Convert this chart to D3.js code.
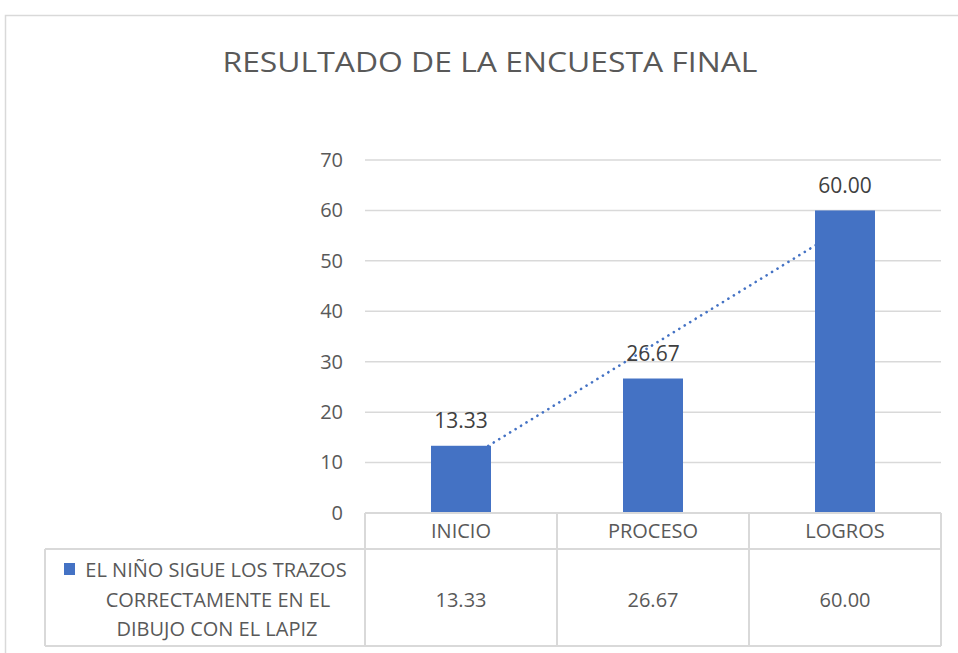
<!DOCTYPE html>
<html>
<head>
<meta charset="utf-8">
<script src="https://cdn.jsdelivr.net/npm/d3@7.9.0/dist/d3.min.js"></script>
<style>
  body { margin: 0; background: #fff; }
  svg { display: block; font-family: "Open Sans", "Noto Sans", sans-serif; }
</style>
</head>
<body>
<svg id="chart"></svg>
<script>
const categories = ["INICIO", "PROCESO", "LOGROS"];
const values = [13.33, 26.67, 60.00];
const seriesName = ["EL NIÑO SIGUE LOS TRAZOS", "CORRECTAMENTE EN EL", "DIBUJO CON EL LAPIZ"];
const yTicks = [0, 10, 20, 30, 40, 50, 60, 70];
const title = "RESULTADO DE LA ENCUESTA FINAL";

const width = 958;
const height = 653;
const barColor = "#4472C4";
const textColor = "#595959";
const gridColor = "#d9d9d9";

const svg = d3.select("#chart").attr("width", width).attr("height", height);

// chart frame
svg.append("path")
    .attr("d", `M5.5,${height} V15.5 H${width}`)
    .attr("fill", "none")
    .attr("stroke", "#d9d9d9")
    .attr("stroke-width", 1.5);

svg.append("text")
    .attr("x", 490)
    .attr("y", 72)
    .attr("text-anchor", "middle")
    .attr("fill", textColor)
    .style("font-size", "27px")
    .attr("textLength", 535)
    .attr("lengthAdjust", "spacingAndGlyphs")
    .text(title);

const plotLeft = 365, plotRight = 941, plotTop = 160, plotBottom = 513;

const x = d3.scaleBand().domain(categories).range([plotLeft, plotRight]).paddingInner(0).paddingOuter(0);
const y = d3.scaleLinear().domain([0, 70]).range([plotBottom, plotTop]);
const barW = 60;

// gridlines
svg.append("g").selectAll("line").data(yTicks.filter(d => d > 0)).join("line")
    .attr("x1", plotLeft).attr("x2", plotRight)
    .attr("y1", d => y(d)).attr("y2", d => y(d))
    .attr("stroke", gridColor).attr("stroke-width", 1.5);

// y axis labels
const yAxis = svg.append("g")
    .attr("transform", `translate(${plotLeft - 22},0)`)
    .call(d3.axisLeft(y).tickValues(yTicks).tickSize(0).tickPadding(0));
yAxis.select(".domain").remove();
yAxis.selectAll("text")
    .attr("fill", textColor)
    .style("font-size", "20px")
    .style("font-family", "'Open Sans', sans-serif");

// linear trendline (least squares over category index)
const xs = values.map((_, i) => i + 1);
const mx = d3.mean(xs), my = d3.mean(values);
const slope = d3.sum(xs, (xi, i) => (xi - mx) * (values[i] - my)) / d3.sum(xs, xi => (xi - mx) ** 2);
const intercept = my - slope * mx;
const trend = xs.map(xi => intercept + slope * xi);

svg.append("path")
    .datum(trend)
    .attr("d", d3.line().x((d, i) => x(categories[i]) + x.bandwidth() / 2).y(d => y(d)))
    .attr("fill", "none")
    .attr("stroke", barColor)
    .attr("stroke-width", 2.6)
    .attr("stroke-linecap", "round")
    .attr("stroke-dasharray", "0.1 6.3");

// bars
svg.append("g").selectAll("rect").data(values).join("rect")
    .attr("x", (d, i) => x(categories[i]) + x.bandwidth() / 2 - barW / 2)
    .attr("width", barW)
    .attr("y", d => y(d))
    .attr("height", d => y(0) - y(d))
    .attr("fill", barColor);

// data labels
svg.append("g").selectAll("text").data(values).join("text")
    .attr("x", (d, i) => x(categories[i]) + x.bandwidth() / 2)
    .attr("y", d => y(d) - 17.5)
    .attr("text-anchor", "middle")
    .attr("fill", "#404040")
    .style("font-size", "21px")
    .text(d => d.toFixed(2));

// data table
const tableLeft = 45, row1Bottom = 549, tableBottom = 646;
const tg = svg.append("g")
    .attr("fill", "none")
    .attr("stroke", gridColor)
    .attr("stroke-width", 2);

tg.append("line").attr("x1", plotLeft).attr("x2", plotRight).attr("y1", plotBottom).attr("y2", plotBottom);
tg.append("line").attr("x1", tableLeft).attr("x2", plotRight).attr("y1", row1Bottom).attr("y2", row1Bottom);
tg.append("line").attr("x1", tableLeft).attr("x2", plotRight).attr("y1", tableBottom).attr("y2", tableBottom);
tg.append("line").attr("x1", tableLeft).attr("x2", tableLeft).attr("y1", row1Bottom).attr("y2", tableBottom);
tg.selectAll("line.v").data(categories.map(c => x(c)).concat([plotRight])).join("line")
    .attr("class", "v")
    .attr("x1", d => d).attr("x2", d => d)
    .attr("y1", plotBottom).attr("y2", tableBottom);

svg.append("g").selectAll("text").data(categories).join("text")
    .attr("x", d => x(d) + x.bandwidth() / 2)
    .attr("y", 538)
    .attr("text-anchor", "middle")
    .attr("fill", textColor)
    .style("font-size", "20px")
    .text(d => d);

svg.append("g").selectAll("text").data(values).join("text")
    .attr("x", (d, i) => x(categories[i]) + x.bandwidth() / 2)
    .attr("y", 607)
    .attr("text-anchor", "middle")
    .attr("fill", textColor)
    .style("font-size", "20px")
    .text(d => d.toFixed(2));

// legend key + series name
svg.append("rect")
    .attr("x", 64).attr("y", 563).attr("width", 11).attr("height", 12)
    .attr("fill", barColor);

const nameX = [216, 218, 217];
svg.append("g").selectAll("text").data(seriesName).join("text")
    .attr("x", (d, i) => nameX[i])
    .attr("y", (d, i) => 577 + i * 29.5)
    .attr("text-anchor", "middle")
    .attr("fill", textColor)
    .style("font-size", "20px")
    .text(d => d);
</script>
</body>
</html>
